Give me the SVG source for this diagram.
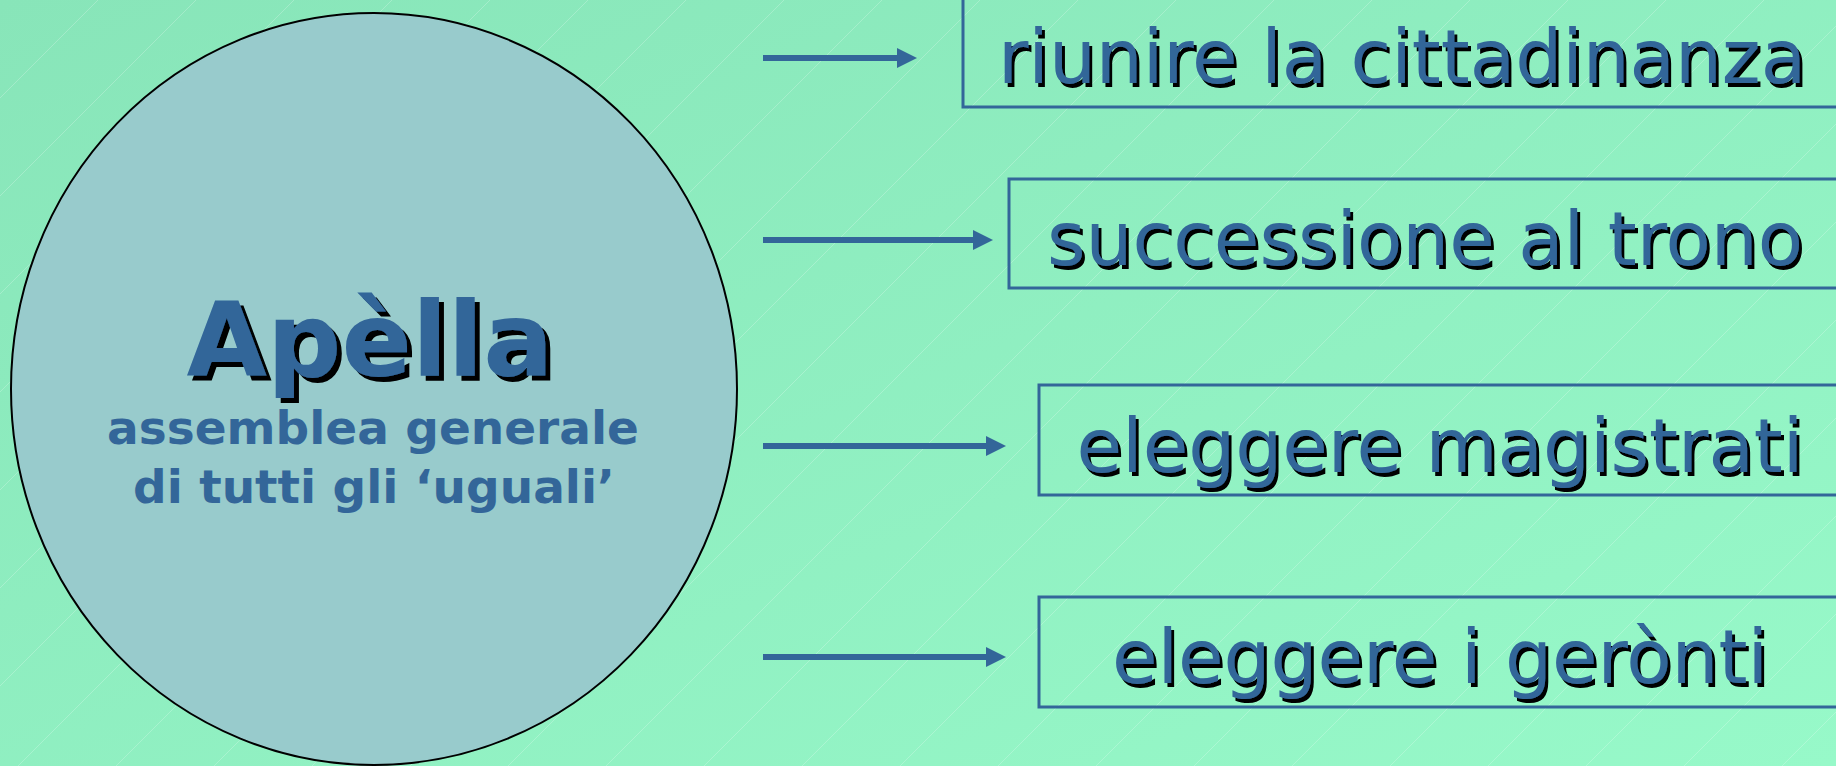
<svg xmlns="http://www.w3.org/2000/svg" width="1836" height="766" viewBox="0 0 1836 766">
<defs>
<linearGradient id="bg" x1="0" y1="0" x2="1" y2="1">
<stop offset="0" stop-color="#88e5b9"/>
<stop offset="1" stop-color="#97f9c9"/>
</linearGradient>
<pattern id="streaks" patternUnits="userSpaceOnUse" width="98" height="98">
<path d="M0,98 L98,0" stroke="#ffffff" stroke-opacity="0.22" stroke-width="1" fill="none"/>
</pattern>
<filter id="shadowBig" x="-5%" y="-20%" width="115%" height="150%">
<feOffset in="SourceAlpha" dx="5" dy="5" result="off"/>
<feFlood flood-color="#000000"/>
<feComposite in2="off" operator="in" result="sh"/>
<feMerge><feMergeNode in="sh"/><feMergeNode in="SourceGraphic"/></feMerge>
</filter>
<filter id="shadowSmall" x="-5%" y="-20%" width="115%" height="150%">
<feOffset in="SourceAlpha" dx="3" dy="4" result="off"/>
<feFlood flood-color="#000000"/>
<feComposite in2="off" operator="in" result="sh"/>
<feMerge><feMergeNode in="sh"/><feMergeNode in="SourceGraphic"/></feMerge>
</filter>
<marker id="ah" viewBox="0 0 20 20" markerWidth="20" markerHeight="20" refX="1" refY="10" orient="auto" markerUnits="userSpaceOnUse">
<path d="M0,0 L20,10 L0,20 Z" fill="#336699"/>
</marker>
</defs>
<style>
.box{fill:none;stroke:#336699;stroke-width:3}
.lbl{font-family:"DejaVu Sans","Liberation Sans",sans-serif;font-size:74px;text-anchor:middle;fill:#336699;filter:url(#shadowSmall)}
.title{font-family:"DejaVu Sans","Liberation Sans",sans-serif;font-weight:bold;font-size:104px;text-anchor:middle;fill:#336699;filter:url(#shadowBig)}
.sub{font-family:"DejaVu Sans","Liberation Sans",sans-serif;font-weight:bold;font-size:47px;text-anchor:middle;fill:#336699}
.arr{stroke:#336699;stroke-width:6;fill:none}
</style>
<rect width="1836" height="766" fill="url(#bg)"/>
<rect width="1836" height="766" fill="url(#streaks)"/>

<g id="apella">
<ellipse cx="374" cy="389" rx="363" ry="376" fill="#98cbcc" stroke="#000000" stroke-width="2"/>
<text class="title" x="370" y="376">Apèlla</text>
<text class="sub" x="373" y="444">assemblea generale</text>
<text class="sub" x="374" y="503">di tutti gli ‘uguali’</text>
</g>

<g id="connectors">
<line class="arr" x1="763" y1="58" x2="898" y2="58" marker-end="url(#ah)"/>
<line class="arr" x1="763" y1="240" x2="974" y2="240" marker-end="url(#ah)"/>
<line class="arr" x1="763" y1="446" x2="987" y2="446" marker-end="url(#ah)"/>
<line class="arr" x1="763" y1="657" x2="987" y2="657" marker-end="url(#ah)"/>
</g>

<g id="n1">
<rect class="box" x="963" y="-10" width="900" height="117"/>
<text class="lbl" x="1402" y="83">riunire la cittadinanza</text>
</g>
<g id="n2">
<rect class="box" x="1009" y="179" width="900" height="109"/>
<text class="lbl" x="1425" y="265">successione al trono</text>
</g>
<g id="n3">
<rect class="box" x="1039" y="385" width="900" height="110"/>
<text class="lbl" x="1440" y="472">eleggere magistrati</text>
</g>
<g id="n4">
<rect class="box" x="1039" y="597" width="900" height="110"/>
<text class="lbl" x="1440" y="683">eleggere i gerònti</text>
</g>
</svg>
